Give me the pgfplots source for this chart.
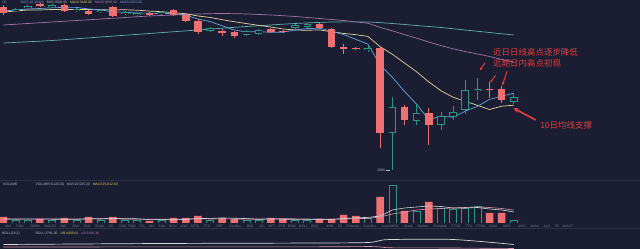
\documentclass[border=0pt]{standalone}
\usepackage{pgfplots}
\pgfplotsset{compat=1.18}
\usepackage{pgfplotstable}
\usepackage{fontspec}
\setmainfont{Liberation Sans}
\newfontfamily\cjk{Noto Sans CJK SC}
\usetikzlibrary{arrows.meta}

\definecolor{bgc}{RGB}{27,29,50}
\definecolor{candred}{RGB}{239,112,112}
\definecolor{candteal}{RGB}{44,150,132}
\definecolor{ma5c}{RGB}{105,165,225}
\definecolor{ma10c}{RGB}{226,214,160}
\definecolor{ma30c}{RGB}{160,118,168}
\definecolor{ma60c}{RGB}{95,175,180}
\definecolor{noteRed}{RGB}{228,62,62}
\definecolor{tickgrey}{RGB}{120,126,145}
\definecolor{hdrgrey}{RGB}{185,190,205}
\definecolor{hdryellow}{RGB}{222,212,95}
\definecolor{hdrpurple}{RGB}{175,125,195}
\definecolor{hdrblue}{RGB}{110,160,215}
\definecolor{sepline}{RGB}{44,47,70}
\definecolor{volmaA}{RGB}{215,215,220}
\definecolor{volmaB}{RGB}{215,150,170}

% daily candles: index, open, high, low, close
\pgfplotstableread{
i  o    h    l    c
0  4430 4450 4350 4370
3  4460 4470 4430 4440
5  4450 4460 4380 4390
7  4390 4400 4350 4360
9  4430 4440 4330 4340
12 4370 4380 4340 4350
14 4400 4410 4340 4350
15 4350 4360 4280 4290
16 4290 4310 4160 4180
18 4190 4210 4140 4170
19 4180 4190 4120 4140
22 4210 4220 4170 4180
23 4190 4200 4170 4180
26 4260 4270 4210 4220
27 4210 4220 4020 4030
28 4030 4060 3960 4010
29 4020 4030 4000 4010
31 4020 4030 3020 3170
33 3430 3450 3250 3300
35 3370 3420 3050 3250
40 3610 3680 3520 3600
41 3610 3640 3470 3500
}\downcandles

\pgfplotstableread{
i  o    h    l    c
1  4390 4420 4380 4410
2  4420 4450 4410 4440
4  4430 4460 4420 4450
6  4390 4420 4380 4410
8  4380 4410 4370 4400
10 4360 4390 4350 4380
11 4350 4380 4340 4370
13 4360 4390 4350 4380
17 4190 4230 4180 4220
20 4150 4200 4140 4190
21 4160 4210 4150 4200
24 4220 4260 4210 4250
25 4230 4270 4220 4260
30 4000 4040 3980 4020
32 3170 3530 2800 3430
34 3290 3460 3250 3370
36 3250 3380 3200 3340
37 3330 3440 3300 3380
38 3400 3700 3360 3600
39 3590 3720 3500 3610
42 3480 3560 3460 3530
}\upcandles

% short moving averages
\pgfplotstableread{
i  ma5  ma10
0  4390 4380
1  4400 4390
2  4410 4400
3  4415 4400
4  4422 4405
5  4426 4405
6  4426 4405
7  4410 4405
8  4402 4402
9  4380 4401
10 4378 4402
11 4370 4398
12 4368 4389
13 4364 4383
14 4366 4373
15 4348 4363
16 4310 4340
17 4284 4326
18 4242 4303
19 4200 4283
20 4180 4264
21 4184 4247
22 4176 4230
23 4178 4210
24 4200 4200
25 4214 4197
26 4218 4201
27 4188 4182
28 4154 4166
29 4106 4153
30 4058 4136
31 3848 4033
32 3728 3958
33 3586 3870
34 3458 3782
35 3304 3681
36 3338 3593
37 3328 3528
38 3388 3487
39 3436 3447
40 3506 3405
41 3538 3438
42 3568 3448
}\mashort

\pgfplotstableread{
i  v
0  4250
2  4265
4  4280
6  4295
8  4310
10 4325
12 4340
14 4350
16 4360
18 4365
20 4360
22 4350
24 4335
26 4315
28 4295
29 4280
30 4267
31 4226
32 4192
33 4154
34 4118
35 4080
36 4045
37 4012
38 3985
39 3961
40 3935
41 3906
42 3880
}\mathirty

\pgfplotstableread{
i  v
0  4070
4  4095
8  4130
12 4165
16 4200
20 4235
24 4265
27 4280
30 4280
32 4265
34 4245
36 4225
38 4200
40 4175
42 4150
}\masixty

% volume
\pgfplotstableread{
i  v
0  12000
3  8000
5  10000
7  12000
9  12000
12 4000
14 10000
15 10000
16 14000
18 10000
19 8000
22 10000
23 8000
26 8000
27 8000
28 16000
29 14000
31 52000
33 24000
35 42000
40 20000
41 20000
}\downvol

\pgfplotstableread{
i  v
1  6000
2  6000
4  6000
6  6000
8  6000
10 6000
11 6000
13 6000
17 6000
20 6000
21 6000
24 6000
25 6000
30 10000
32 76000
34 24000
36 30000
37 28000
38 30000
39 34000
42 6126
}\upvol

\pgfplotstableread{
i  m5    m10
0  8000  8000
1  7800  8000
2  7600  8200
3  7600  8200
4  7600  8200
5  7200  8200
6  7200  8200
7  8400  8400
8  8000  8400
9  9200  8400
10 8400  7800
11 8400  7800
12 6800  7600
13 6800  7400
14 6400  7800
15 7200  7800
16 8800  8600
17 9200  8000
18 10000 8400
19 9600  8000
20 8800  8000
21 7200  8000
22 8000  8600
23 7600  8800
24 7200  8400
25 7200  8000
26 7600  7400
27 7200  7600
28 8800  8200
29 10400 8800
30 11200 9200
31 14000 12000
32 26000 18000
33 30000 22000
34 32000 26000
35 34000 28000
36 33000 29000
37 30000 30000
38 30000 31000
39 31000 32000
40 28000 31000
41 26000 29000
42 22025 25813
}\volma

% Bollinger pane
\pgfplotstableread{
i  v
0  4.5
13 5.5
26 6
30 6.5
31 8.5
32 9.5
37 9.5
42 4.5
}\bollup
\pgfplotstableread{
i  v
0  2
26 2.2
30 2.5
31 2
32 1.2
37 1
42 0.5
}\bollmid

\pgfplotsset{
  pane/.style={scale only axis, width=640bp, xmin=-0.288, xmax=52.387,
    axis line style={draw=none}, tick style={draw=none},
    xtick=\empty, ytick=\empty, anchor=south west, clip=true},
  wick/.style={draw=none, mark=none, forget plot,
    error bars/.cd, y dir=both, y explicit, error mark=none,
    error bar style={line width=0.8bp, draw=#1}},
  body/.style 2 args={draw=none, mark=none, forget plot,
    error bars/.cd, y dir=both, y explicit, error mark=none,
    error bar style={line width=#2, draw=#1}},
}

\newcommand{\tinyfont}{\fontsize{3.4}{4}\selectfont}

\begin{document}
\begin{tikzpicture}
\path[use as bounding box, fill=bgc] (0,0) rectangle (640bp,249bp);

% ---------------- price pane ----------------
\begin{axis}[pane, at={(0,69bp)}, height=180bp, ymin=2700, ymax=4500]
  % moving averages
  \addplot[ma60c, line width=0.7bp, smooth, tension=0.4] table[x=i, y=v] {\masixty};
  \addplot[ma30c, line width=0.7bp, smooth, tension=0.4] table[x=i, y=v] {\mathirty};
  \addplot[ma10c, line width=0.7bp] table[x=i, y=ma10] {\mashort};
  \addplot[ma5c, line width=0.7bp] table[x=i, y=ma5] {\mashort};

  % wicks
  \addplot[wick=candred] table[x=i, y expr=(\thisrow{h}+\thisrow{l})/2,
      y error expr=(\thisrow{h}-\thisrow{l})/2] {\downcandles};
  \addplot[wick=candteal] table[x=i, y expr=(\thisrow{h}+\thisrow{l})/2,
      y error expr=(\thisrow{h}-\thisrow{l})/2] {\upcandles};

  % bodies: falling days filled, rising days hollow
  \addplot[body={candred}{7.5bp}] table[x=i, y expr=(\thisrow{o}+\thisrow{c})/2,
      y error expr=abs(\thisrow{o}-\thisrow{c})/2] {\downcandles};
  \addplot[body={candteal}{7.5bp}] table[x=i, y expr=(\thisrow{o}+\thisrow{c})/2,
      y error expr=abs(\thisrow{o}-\thisrow{c})/2] {\upcandles};
  \addplot[body={bgc}{6.1bp}] table[x=i, y expr=(\thisrow{o}+\thisrow{c})/2,
      y error expr={max(abs(\thisrow{o}-\thisrow{c})/2-7,0)}] {\upcandles};

  % low marker
  \node[anchor=east, text=hdrgrey, font=\tinyfont, inner sep=0.4bp] at (axis cs:31.45,2800) {2800};
  \draw[hdrgrey, line width=0.3bp] (axis cs:31.47,2800) -- (axis cs:31.8,2800);

  % notes
  \node[anchor=west, inner sep=0, text=noteRed, font=\cjk\fontsize{8.5}{9}\selectfont]
    at (axis cs:40.29,3980) {近日日线高点逐步降低};
  \node[anchor=west, inner sep=0, text=noteRed, font=\cjk\fontsize{8.5}{9}\selectfont]
    at (axis cs:40.29,3870) {近期日内高点初现};
  \node[anchor=west, inner sep=0, text=noteRed, font=\cjk\fontsize{8.5}{9}\selectfont]
    at (axis cs:44.16,3250) {10日均线支撑};

  \draw[noteRed, line width=0.9bp, -{Stealth[length=3bp,width=2.6bp]}]
    (axis cs:39.62,3870) -- (axis cs:39.2,3795);
  \draw[noteRed, line width=0.9bp, -{Stealth[length=3bp,width=2.6bp]}]
    (axis cs:40.5,3745) -- (axis cs:40.05,3675);
  \draw[noteRed, line width=1bp, -{Stealth[length=3.5bp,width=3bp]}]
    (axis cs:41.45,3790) -- (axis cs:41.05,3645);
  \draw[noteRed, line width=1.6bp, -{Stealth[length=6bp,width=5bp]}]
    (axis cs:43.8,3300) -- (axis cs:41.95,3420);
\end{axis}

% ---------------- volume pane ----------------
\begin{axis}[pane, at={(0,26bp)}, height=43bp, ymin=0, ymax=86000,
    xtick={0.37,1.36,2.59,3.83,4.90,5.97,6.87,7.94,8.85,9.84,10.58,11.40,12.22,13.05,13.95,14.86,15.76,16.75,17.82,19.05,20.29,21.28,22.10,22.92,23.74,24.65,25.64,26.88,27.70,28.77,30.16,31.81,33.29,34.53,35.93,37.24,38.31,39.30,40.29,41.44,42.67,43.74,44.73,45.56,46.46},
    xticklabels={JAN,FMA,ODSN,MAR20,SNE,DAX,TAX,BNAK,GS,OKK,FWD,ITG,MX,SAX,KCU,AGO,AFTK,FTS,PEF,Coinflex,BMI,JCI,MFT,PTB,BRW,MCLI,BOX,MIN,Bit,Poloniex,Coinflex,AnonIMOS,LBank,Bitdeer,Probable,FTSO,TTX,FTMX,AVAX,MKR,AVIS,AVAX,ALU,FE,AVAST},
    xticklabel style={font=\tinyfont, text=tickgrey, inner sep=1bp, yshift=-0.5bp}]
  \addplot[ybar, bar width=7.5bp, bar shift=0pt, fill=candred, draw=none] table[x=i, y=v] {\downvol};
  \addplot[ybar, bar width=7bp, bar shift=0pt, fill=bgc, draw=candteal, line width=0.6bp] table[x=i, y=v] {\upvol};
  \addplot[volmaB, line width=0.6bp] table[x=i, y=m10] {\volma};
  \addplot[volmaA, line width=0.6bp] table[x=i, y=m5] {\volma};
\end{axis}

% ---------------- Bollinger pane ----------------
\begin{axis}[pane, at={(0,0)}, height=20bp, ymin=0, ymax=20]
  \addplot[volmaB, line width=0.6bp, smooth] table[x=i, y=v] {\bollmid};
  \addplot[volmaA, line width=0.7bp, smooth] table[x=i, y=v] {\bollup};
\end{axis}

% separators
\draw[sepline, line width=0.5bp] (0,69bp) -- (640bp,69bp);
\draw[sepline, line width=0.5bp] (0,20.5bp) -- (640bp,20.5bp);

% pane headers
\node[anchor=west, inner sep=0, font=\tinyfont] at (2bp,246.5bp)
  {\textcolor{ma60c}{1D}\hspace{14bp}\textcolor{hdrblue}{MA(5,10,30,60)}\hspace{3bp}\textcolor{hdrgrey}{MA5:3568.00}\hspace{3bp}\textcolor{hdryellow}{MA10:3448.00}\hspace{3bp}\textcolor{hdrpurple}{MA30:3880.00}\hspace{3bp}\textcolor{hdrblue}{MA60:4150.00}};
\node[anchor=west, inner sep=0, font=\tinyfont] at (3bp,64bp)
  {\textcolor{hdrgrey}{VOLUME}\hspace{18bp}\textcolor{hdrgrey}{VOLUME:6,126.00\hspace{3bp}MA5:22,025.20}\hspace{3bp}\textcolor{hdryellow}{MA10:25,812.60}};
\node[anchor=west, inner sep=0, font=\tinyfont] at (2bp,15bp)
  {\textcolor{hdrgrey}{BOLL(20,2)}\hspace{16bp}\textcolor{hdrgrey}{BOLL:3781.00}\hspace{3bp}\textcolor{hdryellow}{UB:4405.61}\hspace{3bp}\textcolor{hdrpurple}{LB:3156.39}};
\end{tikzpicture}
\end{document}
